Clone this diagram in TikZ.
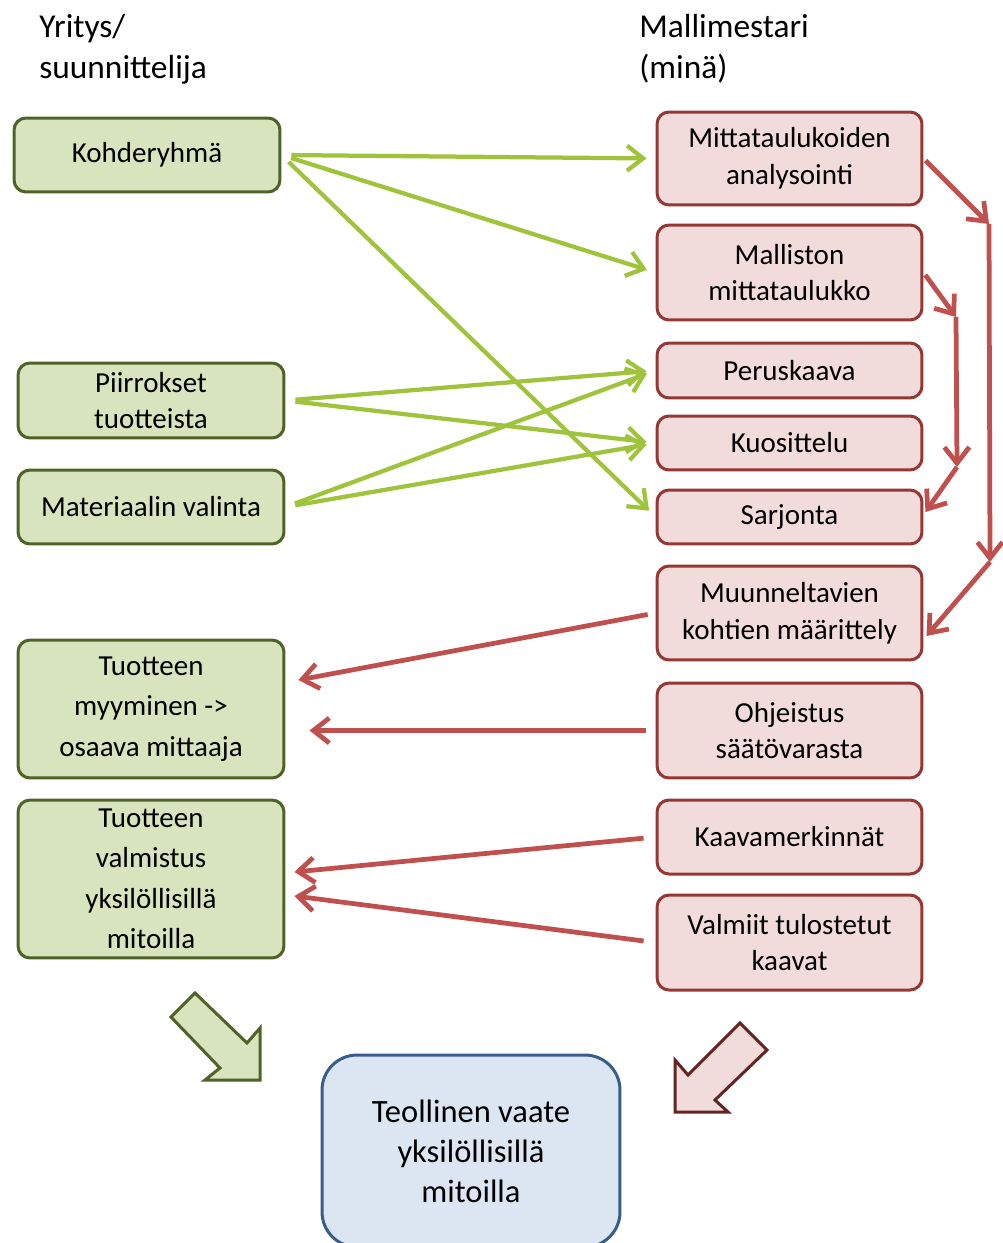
\documentclass[tikz,border=0pt]{standalone}
\usepackage{fontspec}
\setmainfont{Carlito}
\usepackage{tikz}
\usetikzlibrary{arrows.meta, positioning, calc}
\definecolor{cGreenFill}{RGB}{215,228,189}
\definecolor{cGreenLine}{RGB}{79,98,40}
\definecolor{cGreenArr}{RGB}{160,195,60}
\definecolor{cRedFill}{RGB}{242,220,219}
\definecolor{cRedLine}{RGB}{149,55,53}
\definecolor{cRedArr}{RGB}{192,80,77}
\definecolor{cRedDark}{RGB}{99,37,35}
\definecolor{cBlueFill}{RGB}{220,230,242}
\definecolor{cBlueLine}{RGB}{56,93,138}
\tikzset{
	gbox/.style   ={rectangle, rounded corners=2.4mm, draw=cGreenLine, line width=0.6mm, fill=cGreenFill, minimum width=5.32cm, align=center, inner sep=2pt},
	rbox/.style   ={rectangle, rounded corners=2.4mm, draw=cRedLine, line width=0.6mm, fill=cRedFill, minimum width=5.3cm, align=center, inner sep=2pt},
	tbox/.style   ={rectangle, rounded corners=7mm, draw=cBlueLine, line width=0.6mm, fill=cBlueFill, minimum width=5.96cm, minimum height=3.84cm, align=center, font=\fontsize{18.5}{22.7}\selectfont},
	tallbox/.style={font=\fontsize{16.5}{23}\selectfont},
	heading/.style={anchor=north west, align=left, inner sep=0pt, font=\fontsize{19}{23.2}\selectfont},
	% connectors
	garr/.style   ={-{Straight Barb[length=3.2mm, width=5mm]}, line width=0.85mm, draw=cGreenArr, shorten <=2mm, shorten >=1.8mm},
	rarr/.style   ={-{Straight Barb[length=3.2mm, width=5mm]}, line width=0.95mm, draw=cRedArr},
	% big block arrows
	bigarr/.style ={line width=0.6mm, line join=miter},
}
\begin{document}
\begin{tikzpicture}[x=0.02cm, y=-0.02cm, font=\fontsize{16.5}{21}\selectfont]
	\useasboundingbox (0,0) rectangle (1003,1243);
	\clip (0,0) rectangle (1003,1243);
	% column headings
	\node[heading] (hyr) at (39,14) {Yritys/\\suunnittelija};
	\node[heading] (hmm) at (639,14) {Mallimestari\\(minä)};
	% company / designer
	\node[gbox, minimum height=1.48cm] (kohd) at (147,155) {Kohderyhmä};
	\node[gbox, minimum height=1.5cm] (piir) at (151,400.5) {Piirrokset\\tuotteista};
	\node[gbox, minimum height=1.48cm] (mat) at (151,507) {Materiaalin valinta};
	\node[gbox, tallbox, minimum height=2.76cm] (myy) at (151,709) {Tuotteen\\myyminen ->\\osaava mittaaja};
	\node[gbox, tallbox, minimum height=3.16cm] (valm) at (151,879) {Tuotteen\\valmistus\\yksilöllisillä\\mitoilla};
	% pattern maker
	\node[rbox, minimum height=1.86cm] (anal) at (789.5,158.5) {Mittataulukoiden\\analysointi};
	\node[rbox, minimum height=1.9cm] (mtau) at (789.5,272.5) {Malliston\\mittataulukko};
	\node[rbox, minimum height=1.1cm] (peru) at (789.5,370.5) {Peruskaava};
	\node[rbox, minimum height=1.08cm] (kuos) at (789.5,443) {Kuosittelu};
	\node[rbox, minimum height=1.08cm] (sarj) at (789.5,517) {Sarjonta};
	\node[rbox, minimum height=1.88cm] (muun) at (789.5,613) {Muunneltavien\\kohtien määrittely};
	\node[rbox, minimum height=1.9cm] (ohje) at (789.5,730.5) {Ohjeistus\\säätövarasta};
	\node[rbox, minimum height=1.48cm] (kaav) at (789.5,837) {Kaavamerkinnät};
	\node[rbox, minimum height=1.9cm] (tulo) at (789.5,942.5) {Valmiit tulostetut\\kaavat};
	% result
	\node[tbox] (teol) at (471,1151) {Teollinen vaate\\yksilöllisillä\\mitoilla};
	% inputs from the company
	\foreach \a/\b in {kohd/anal, kohd/mtau, kohd/sarj, piir/peru, piir/kuos, mat/peru, mat/kuos}
		\draw[garr] (\a.east) -- (\b.west);
	% chains on the right
	\coordinate (c1) at (989,224);
	\coordinate (c2) at (990,562);
	\coordinate (c3) at (956,317);
	\coordinate (c4) at (957,467);
	\draw[rarr, shorten <=0.6mm] (anal.east) -- (c1);
	\draw[rarr] (c1) -- (c2);
	\draw[rarr] (c2) -- ($(muun.east)+(3,23)$);
	\draw[rarr, shorten <=0.6mm] (mtau.east) -- (c3);
	\draw[rarr] (c3) -- (c4);
	\draw[rarr] (c4) -- ($(sarj.east)+(2,-5)$);
	% back to the company
	\draw[rarr, shorten <=1.6mm] (muun.west) -- ($(myy.east)+(13,-29)$);
	\draw[rarr, shorten <=2mm, shorten >=4.8mm] (ohje.west) -- (ohje.west -| myy.east);
	\draw[rarr, shorten <=2.4mm] (kaav.west) -- ($(valm.east)+(9,-7)$);
	\draw[rarr, shorten <=2.4mm] (tulo.west) -- ($(valm.east)+(9,17)$);
	% block arrows towards the result
	\draw[bigarr, draw=cGreenLine, fill=cGreenFill] (171,1017) -- (195,993) -- (247,1043) -- (260,1028) -- (260,1080) -- (205,1080) -- (220,1068) -- cycle;
	\draw[bigarr, draw=cRedDark, fill=cRedFill] (740,1023) -- (767,1050) -- (715,1100) -- (728,1112) -- (675,1112) -- (675,1060) -- (688,1075) -- cycle;
\end{tikzpicture}
\end{document}
